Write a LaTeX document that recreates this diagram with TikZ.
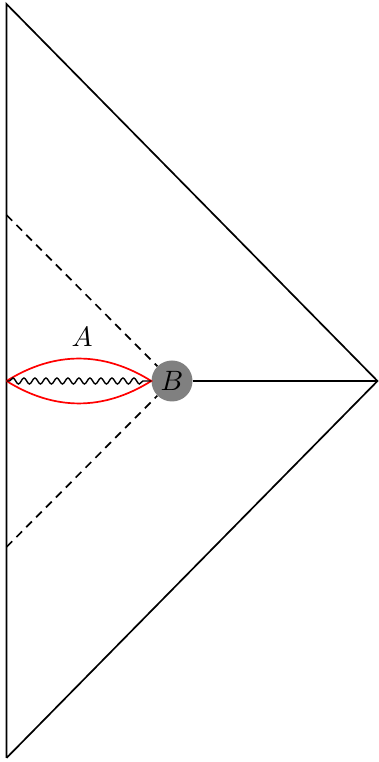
\documentclass[tikz,border=0pt]{standalone}
\usepackage{tikz}
\usetikzlibrary{positioning,calc,decorations.pathmorphing}
\newcommand{\biglabel}[1]{\scalebox{2.8}{$#1$}}
\begin{document}
\begin{tikzpicture}[x=1pt,y=1pt,
    edge/.style={line width=1.7pt},
    hor/.style={edge,dash pattern=on 8pt off 6pt},
    lens/.style={line width=1.7pt,red},
    wig/.style={line width=1.4pt,decorate,
                decoration={snake,amplitude=3pt,segment length=11pt,
                            pre length=3pt,post length=4pt}},
    bh/.style={circle,fill=black!50,minimum size=41pt,inner sep=0pt},
    lab/.style={inner sep=0pt}]
    \useasboundingbox (0,0) rectangle (378,762);
    % --- outer triangle ---
    \coordinate (top) at (6.5,758);
    \coordinate (bot) at (6.5,4);
    \coordinate (inf) at (377.5,381);
    \coordinate (mid) at (6.5,381);
    \coordinate (up) at (6.5,547);
    \coordinate (dn) at (6.5,215);
    \draw[edge] (bot) -- (top) -- (inf) -- (bot);
    % --- point B and horizons ---
    \node[bh] (B) at (172,381) {\biglabel{B}};
    \draw[edge] (B) -- (inf);
    \draw[hor] (up) -- (B);
    \draw[hor] (dn) -- (B);
    % --- island A ---
    \draw[lens] (mid) to[out=32,in=148] (B.west) to[out=-148,in=-32] (mid);
    \draw[wig] (mid) -- (B.west);
    \node[lab] (A) at (82,425) {\biglabel{A}};
\end{tikzpicture}
\end{document}
